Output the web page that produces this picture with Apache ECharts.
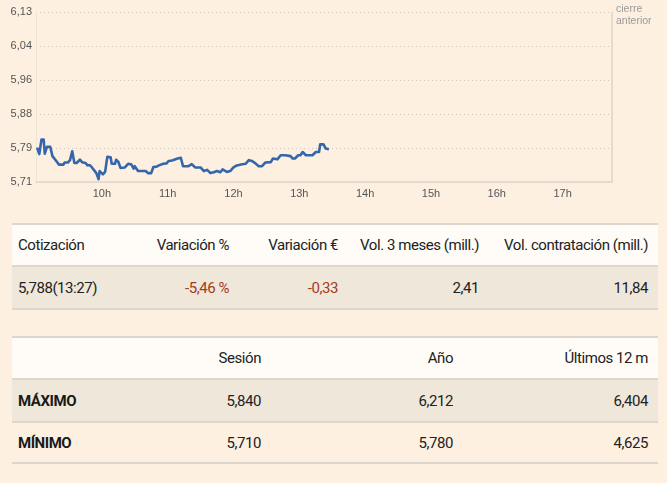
<!DOCTYPE html>
<html>
<head>
<meta charset="utf-8">
<script src="https://cdn.jsdelivr.net/npm/echarts@6/dist/echarts.min.js"></script>
<style>
  html, body { margin: 0; padding: 0; background: #fdf0e1; width: 667px; height: 483px; overflow: hidden; }
  #chart { position: absolute; left: 0; top: 0; width: 667px; height: 200px; }
  .tbl { position: absolute; left: 12px; width: 646px; border-collapse: collapse; table-layout: fixed;
         font-family: "Roboto", "Liberation Sans Narrow", sans-serif; font-size: 15px; letter-spacing: -0.45px; color: #222; }
  .tbl td { padding: 0 10px 0 6px; white-space: nowrap; overflow: visible; }
  .tbl tr { border-bottom: 2px solid #ddd6cc; }
  .tbl tr.first { border-top: 2px solid #ddd6cc; }
  .tbl .head { background: #fffcf7; }
  .tbl .shade { background: #efe7da; }
  .tbl .plain { background: #fdf0e1; }
  .r { text-align: right; }
  .l { text-align: left; }
  .neg { color: #a33a22; }
  .b { font-weight: bold; color: #1a1a1a; }
</style>
</head>
<body>
<div id="chart"></div>
<table class="tbl" id="t1" style="top:223px;">
  <colgroup><col style="width:118px"><col style="width:109px"><col style="width:109px"><col style="width:141px"><col style="width:169px"></colgroup>
</table>
<table class="tbl" id="t2" style="top:336px;">
  <colgroup><col style="width:138px"><col style="width:121px"><col style="width:192px"><col style="width:195px"></colgroup>
</table>
<script>
// ---- Intraday price data (time, price) ----
const times = ["09:01","09:03","09:05","09:07","09:08","09:10","09:13","09:15","09:19","09:21","09:25","09:26","09:29","09:31","09:33","09:35","09:37","09:40","09:42","09:45","09:47","09:49","09:51","09:55","09:57","09:58",
"10:01","10:03","10:05","10:08","10:09","10:12","10:13","10:15","10:17","10:21","10:24","10:27","10:29","10:30","10:33","10:40","10:42","10:45","10:47","10:50","10:52","10:56","10:59",
"11:01","11:04","11:06","11:09","11:12","11:14","11:19","11:22","11:25","11:30","11:33","11:36","11:39","11:42","11:45","11:48","11:50","11:54","11:57",
"12:00","12:03","12:08","12:11","12:14","12:17","12:20","12:23","12:26","12:29","12:34","12:36","12:40","12:43","12:47","12:52","12:54","12:56","12:59",
"13:01","13:03","13:06","13:12","13:15","13:18","13:19","13:22","13:24","13:27"];
const prices = [5.795,5.779,5.815,5.815,5.780,5.797,5.797,5.774,5.760,5.753,5.753,5.758,5.758,5.764,5.786,5.757,5.757,5.765,5.759,5.757,5.751,5.752,5.746,5.732,5.717,5.737,
5.729,5.735,5.772,5.771,5.755,5.755,5.765,5.760,5.745,5.746,5.755,5.753,5.743,5.749,5.737,5.737,5.732,5.732,5.747,5.748,5.751,5.755,5.756,
5.762,5.763,5.765,5.768,5.770,5.749,5.749,5.754,5.746,5.746,5.737,5.740,5.732,5.734,5.737,5.734,5.741,5.735,5.737,
5.746,5.751,5.754,5.755,5.764,5.762,5.756,5.749,5.749,5.758,5.759,5.768,5.766,5.776,5.776,5.774,5.768,5.768,5.776,
5.776,5.784,5.776,5.776,5.784,5.784,5.803,5.803,5.793,5.791];

// ---- Axis labels ----
const yTickLabels = ["5,71","5,79","5,88","5,96","6,04","6,13"];
const yMin = 5.71, yMax = 6.13;
const hourStart = 9, hourEnd = 17.75;
const hourLabels = [10, 11, 12, 13, 14, 15, 16, 17];
const refLabel = "cierre\nanterior";

// ---- Table data ----
const quoteHeaders = ["Cotización","Variación %","Variación €","Vol. 3 meses (mill.)","Vol. contratación (mill.)"];
const quoteValues = ["5,788(13:27)","-5,46 %","-0,33","2,41","11,84"];
const rangeHeaders = ["","Sesión","Año","Últimos 12 m"];
const maxRow = ["MÁXIMO","5,840","6,212","6,404"];
const minRow = ["MÍNIMO","5,710","5,780","4,625"];

// build tables
function row(cells, cls, cellCls, h) {
  const tr = document.createElement('tr');
  tr.className = cls;
  cells.forEach((c, i) => {
    const td = document.createElement('td');
    td.textContent = c;
    td.className = cellCls(i);
    tr.appendChild(td);
  });
  tr.style.height = h + 'px';
  return tr;
}
const t1 = document.getElementById('t1');
t1.appendChild(row(quoteHeaders, 'head first', i => i === 0 ? 'l' : 'r', 42));
t1.appendChild(row(quoteValues, 'shade', i => i === 0 ? 'l' : (i <= 2 ? 'r neg' : 'r'), 43));
const t2 = document.getElementById('t2');
t2.appendChild(row(rangeHeaders, 'head first', i => i === 0 ? 'l' : 'r', 42));
t2.appendChild(row(maxRow, 'shade', i => i === 0 ? 'l b' : 'r', 43));
t2.appendChild(row(minRow, 'plain', i => i === 0 ? 'l b' : 'r', 41));

// chart
const toHours = s => { const [h, m] = s.split(':').map(Number); return h + m / 60; };
const seriesData = times.map((t, i) => [toHours(t), prices[i]]);

const chart = echarts.init(document.getElementById('chart'), null, { renderer: 'canvas' });
const labelFont = { color: '#555', fontSize: 11, fontFamily: 'Liberation Sans, Arial, sans-serif' };
chart.setOption({
  animation: false,
  backgroundColor: 'transparent',
  grid: { left: 36, right: 55, top: 12, bottom: 18 },
  xAxis: {
    type: 'value', min: hourStart, max: hourEnd, interval: 1,
    axisLine: { show: true, lineStyle: { color: '#ddd5ca', width: 1.5 } },
    axisTick: { show: false },
    splitLine: { show: false },
    axisLabel: Object.assign({ margin: 6, showMinLabel: true, showMaxLabel: true,
      formatter: v => hourLabels.includes(v) ? v + 'h' : '' }, labelFont)
  },
  yAxis: [
    {
      type: 'value', min: yMin, max: yMax, position: 'right',
      axisLine: { show: true, lineStyle: { color: '#ddd5ca', width: 1.5 } },
      axisTick: { show: false }, axisLabel: { show: false }, splitLine: { show: false }
    },
    {
      type: 'value', min: 0, max: yTickLabels.length - 1, interval: 1, position: 'left',
      axisLine: { show: true, lineStyle: { color: '#eee4d6', width: 1 } },
      axisTick: { show: false },
      axisLabel: Object.assign({ margin: 4, formatter: v => yTickLabels[v] }, labelFont),
      splitLine: { show: true, lineStyle: { color: '#cdc6bc', type: [1, 3], width: 1 } }
    }
  ],
  graphic: [{
    type: 'text', left: 616, top: 3,
    style: { text: refLabel, fill: '#9a9a9a', fontSize: 10.5, lineHeight: 12, fontFamily: 'Liberation Sans, Arial, sans-serif' }
  }],
  series: [{
    type: 'line', yAxisIndex: 0, data: seriesData, showSymbol: false,
    lineStyle: { color: '#3566ac', width: 2.6, join: 'round' }
  }]
});
</script>
</body>
</html>
